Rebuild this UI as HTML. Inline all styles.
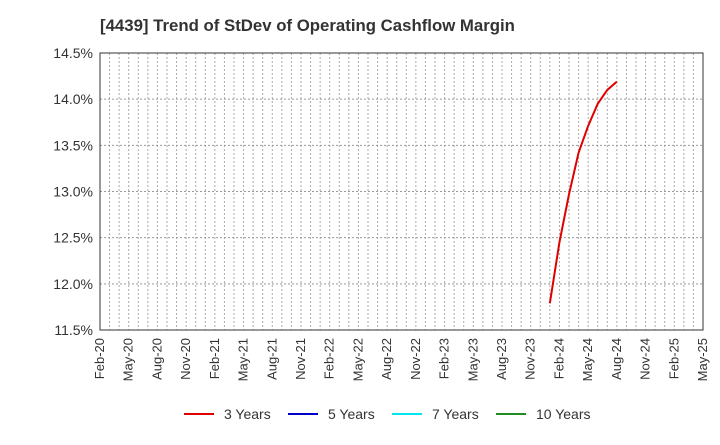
<!DOCTYPE html>
<html><head><meta charset="utf-8"><style>
body{margin:0;background:#fff;font-family:"Liberation Sans",sans-serif}
svg text{font-family:"Liberation Sans",sans-serif}
</style></head><body>
<svg id="chart" width="720" height="440" xmlns="http://www.w3.org/2000/svg">
<text x="100" y="31" font-size="16.8" font-weight="bold" fill="#333">[4439]  Trend of StDev of Operating Cashflow Margin</text>
<g id="grid"></g>
<g id="axes"></g>
<g id="series"></g>
<g id="legend"></g>
</svg>
<script>
const yTicks=[11.5,12.0,12.5,13.0,13.5,14.0,14.5];
const xLabels=["Feb-20","May-20","Aug-20","Nov-20","Feb-21","May-21","Aug-21","Nov-21","Feb-22","May-22","Aug-22","Nov-22","Feb-23","May-23","Aug-23","Nov-23","Feb-24","May-24","Aug-24","Nov-24","Feb-25","May-25"];
const s3Months=[47,48,49,50,51,52,53,54]; // months since Feb-20 (Jan-24..Aug-24)
const s3Values=[11.79,12.45,12.97,13.42,13.71,13.95,14.10,14.19];
const legendNames=["3 Years","5 Years","7 Years","10 Years"];
const legendColors=["#e00000","#0000cc","#00e5ee","#228b22"];
const L=100,R=703,T=53,B=330,NS="http://www.w3.org/2000/svg";
const yMin=11.5,yMax=14.5,nMonths=63;
const X=m=>L+(R-L)*m/nMonths;
const Y=v=>B-(B-T)*(v-yMin)/(yMax-yMin);
function mk(tag,attrs,parent){const e=document.createElementNS(NS,tag);for(const k in attrs)e.setAttribute(k,attrs[k]);parent.appendChild(e);return e;}
const grid=document.getElementById('grid'),axes=document.getElementById('axes'),series=document.getElementById('series'),legend=document.getElementById('legend');
for(let m=1;m<nMonths;m++){const l=mk('line',{x1:X(m),x2:X(m),y1:T,y2:B,stroke:'#aaa','stroke-dasharray':'2,2','stroke-width':1},grid);

}
yTicks.forEach(v=>{const l=mk('line',{x1:L,x2:R,y1:Y(v),y2:Y(v),stroke:'#999','stroke-dasharray':'2,2','stroke-width':1},grid);


const t=mk('text',{x:L-7,y:Y(v)+5,'text-anchor':'end','font-size':14,fill:'#333'},axes);t.textContent=v.toFixed(1)+'%';

});
const fr=mk('rect',{x:L,y:T,width:R-L,height:B-T,fill:'none',stroke:'#333','stroke-width':1},axes);


xLabels.forEach((s,i)=>{const x=X(i*3);const t=mk('text',{x:x+4,y:B+8,'text-anchor':'end','font-size':13,fill:'#333',transform:`rotate(-90 ${x+4} ${B+8})`},axes);t.textContent=s;

});
const p=mk('polyline',{points:s3Months.map((m,i)=>X(m)+','+Y(s3Values[i])).join(' '),fill:'none',stroke:'#e00000','stroke-width':2},series);


const lx=[184,288,392,496];
legendNames.forEach((n,i)=>{const l=mk('line',{x1:lx[i],x2:lx[i]+30,y1:414,y2:414,stroke:legendColors[i],'stroke-width':2},legend);


const t=mk('text',{x:lx[i]+40,y:419,'font-size':14,fill:'#333'},legend);t.textContent=n;

});
</script>
</body></html>
